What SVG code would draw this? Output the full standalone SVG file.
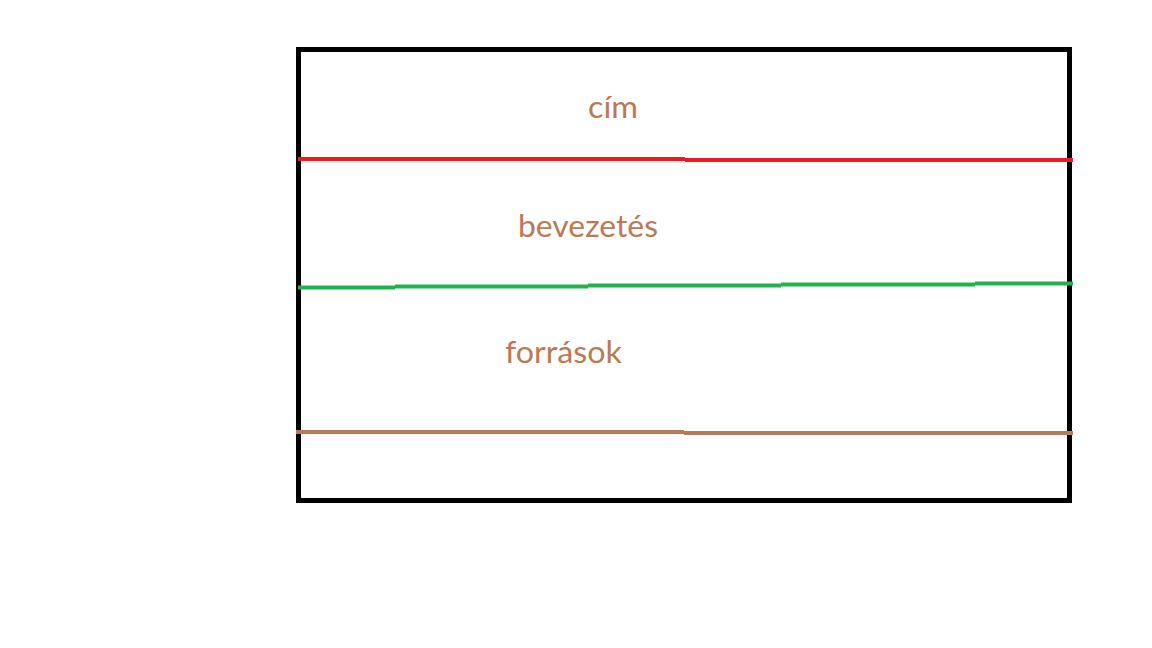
<svg xmlns="http://www.w3.org/2000/svg" width="1152" height="648" viewBox="0 0 1152 648">
<style>
.lbl{font-family:Lato,"Open Sans","Liberation Sans",sans-serif;font-size:30px;fill:#B97A57}
.ln{fill:none;stroke-width:4;stroke-linecap:butt}
</style>
<rect width="1152" height="648" fill="#fff"/>
<g id="frame"><rect x="298.5" y="49.5" width="771" height="451" fill="none" stroke="#000" stroke-width="5"/></g>
<g id="dividers">
<path class="ln" stroke="#ED1C24" d="M298 159H685M685 160H1073"/>
<path class="ln" stroke="#22B14C" d="M298 287.5H395M395 286.5H588M588 285.5H781M781 284.5H975M975 283.5H1073"/>
<path class="ln" stroke="#B97A57" d="M296 432H684M684 433H1073"/>
</g>
<g id="cim"><text class="lbl" x="588" y="118" textLength="50" lengthAdjust="spacingAndGlyphs">cím</text></g>
<g id="bevezetes"><text class="lbl" x="518" y="237" textLength="140" lengthAdjust="spacingAndGlyphs">bevezetés</text></g>
<g id="forrasok"><text class="lbl" x="505" y="363" textLength="117" lengthAdjust="spacingAndGlyphs">források</text></g>
</svg>
